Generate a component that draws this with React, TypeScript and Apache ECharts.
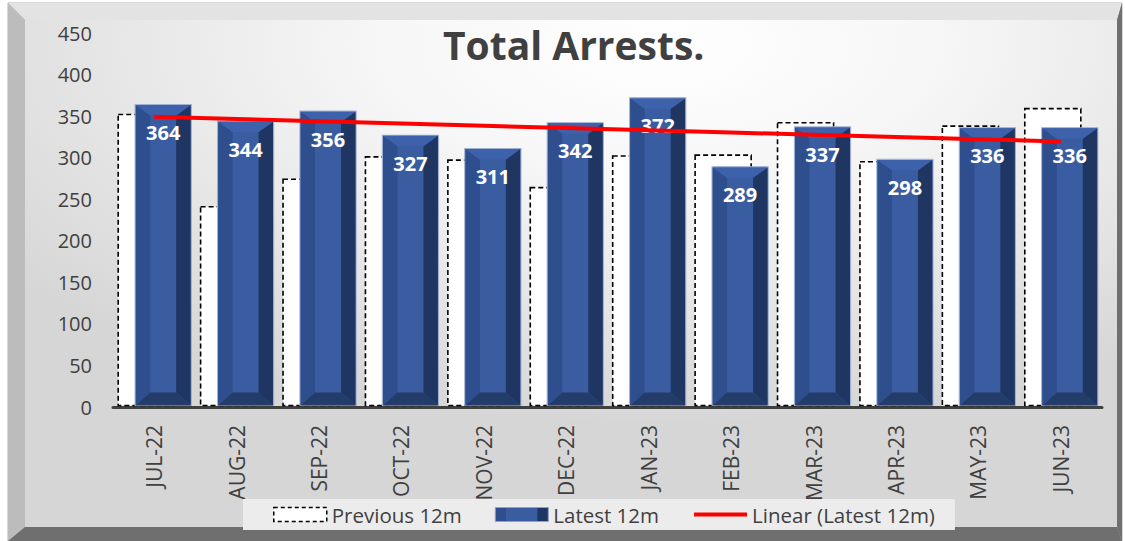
import React, { useEffect, useRef } from "react";
import * as echarts from "echarts";

const categories = ["JUL-22", "AUG-22", "SEP-22", "OCT-22", "NOV-22", "DEC-22", "JAN-23", "FEB-23", "MAR-23", "APR-23", "MAY-23", "JUN-23"];
const previous12m = [352, 241, 274, 301, 297, 264, 302, 303, 342, 295, 338, 359];
const latest12m = [364, 344, 356, 327, 311, 342, 372, 289, 337, 298, 336, 336];
const yMin = 0;
const yMax = 450;
const yInterval = 50;

function linearTrend(values: number[]): number[] {
  const n = values.length;
  const xs = values.map((_, i) => i + 1);
  const mx = xs.reduce((a, b) => a + b, 0) / n;
  const my = values.reduce((a, b) => a + b, 0) / n;
  let sxy = 0;
  let sxx = 0;
  for (let i = 0; i < n; i++) {
    sxy += (xs[i] - mx) * (values[i] - my);
    sxx += (xs[i] - mx) * (xs[i] - mx);
  }
  const slope = sxy / sxx;
  return xs.map((x) => my + slope * (x - mx));
}

const FONT = "'Open Sans', 'Noto Sans', sans-serif";

export default function App() {
  const ref = useRef<HTMLDivElement>(null);
  useEffect(() => {
    document.body.style.margin = "0";
    if (!ref.current) return;
    const chart = echarts.init(ref.current, undefined, { renderer: "svg" });
    const trend = linearTrend(latest12m);

    const PREV_OFF = -0.097;
    const LATEST_OFF = 0.109;
    const BAR_W = 0.68;

    const blueGrad = new echarts.graphic.LinearGradient(0, 0, 1, 0, [
      { offset: 0, color: "#2E4E8E" },
      { offset: 0.2, color: "#2E4E8E" },
      { offset: 0.21, color: "#3A5CA0" },
      { offset: 0.79, color: "#3A5CA0" },
      { offset: 0.8, color: "#1F3562" },
      { offset: 1, color: "#1F3562" },
    ]);

    const option: any = {
      animation: false,
      textStyle: { fontFamily: FONT },
      title: {
        text: "Total Arrests.",
        left: 438,
        top: 20,
        textStyle: { fontFamily: FONT, fontSize: 39, fontWeight: "bold", color: "#404040" },
      },
      graphic: [
        { type: "rect", z: -10, shape: { x: 8, y: 3, width: 1114, height: 538 }, style: { fill: "#bdbdbd", stroke: "#b0b0b0", lineWidth: 1 } },
        { type: "polygon", z: -9, shape: { points: [[8, 3], [1122, 3], [1117, 20], [25, 20]] }, style: { fill: "#e3e3e3" } },
        { type: "polygon", z: -9, shape: { points: [[8, 3], [25, 20], [25, 527], [8, 541]] }, style: { fill: "#bcbcbc" } },
        { type: "polygon", z: -9, shape: { points: [[8, 541], [25, 527], [1117, 527], [1122, 541]] }, style: { fill: "#6f6f6f" } },
        { type: "polygon", z: -9, shape: { points: [[1122, 3], [1117, 20], [1117, 527], [1122, 541]] }, style: { fill: "#6f6f6f" } },
        {
          type: "rect",
          z: -8,
          shape: { x: 25, y: 20, width: 1092, height: 507 },
          style: {
            fill: new echarts.graphic.RadialGradient(0.58, 0.05, 0.75, [
              { offset: 0, color: "#ffffff" },
              { offset: 0.35, color: "#f6f6f6" },
              { offset: 1, color: "#d6d6d6" },
            ]),
          },
        },
      ],
      legend: {
        left: 243,
        top: 499,
        padding: [5, 20, 5, 30],
        backgroundColor: "#ececec",
        itemWidth: 53,
        itemHeight: 14,
        itemGap: 33,
        textStyle: { fontFamily: FONT, fontSize: 20.5, color: "#404040" },
        data: [
          { name: "Previous 12m", icon: "rect", itemStyle: { color: "#ffffff", borderColor: "#000000", borderType: [4, 3], borderWidth: 1.5 } },
          { name: "Latest 12m", icon: "rect", itemStyle: { color: blueGrad, borderColor: "#8CA0C8", borderWidth: 1 } },
          { name: "Linear (Latest 12m)", itemStyle: { color: "rgba(0,0,0,0)", opacity: 0, borderWidth: 0 }, lineStyle: { color: "#FF0000", width: 4 } },
        ],
      },
      grid: { left: 113, right: 23, top: 33, bottom: 134, containLabel: false },
      xAxis: {
        type: "category",
        data: categories,
        axisLine: { lineStyle: { color: "#404040", width: 3 } },
        axisTick: { show: false },
        axisLabel: {
          rotate: 90,
          fontFamily: FONT,
          fontSize: 21,
          color: "#404040",
          margin: 18,
        },
      },
      yAxis: {
        type: "value",
        min: yMin,
        max: yMax,
        interval: yInterval,
        axisLine: { show: false },
        axisTick: { show: false },
        splitLine: { show: false },
        axisLabel: { fontFamily: FONT, fontSize: 20, color: "#404040", margin: 21 },
      },
      series: [
        {
          name: "Previous 12m",
          type: "custom",
          data: previous12m.map((v, i) => [i, v]),
          encode: { x: 0, y: 1 },
          itemStyle: { color: "#ffffff", borderColor: "#000", borderType: "dashed" },
          z: 2,
          renderItem: (params: any, api: any) => {
            const idx = api.value(0);
            const val = api.value(1);
            const top = api.coord([idx, val]);
            const base = api.coord([idx, 0]);
            const bw = api.size([1, 0])[0];
            const w = bw * BAR_W;
            const cx = top[0] + bw * PREV_OFF;
            return {
              type: "rect",
              shape: { x: cx - w / 2, y: top[1], width: w, height: base[1] - top[1] - 1.5 },
              style: { fill: "#ffffff", stroke: "#000000", lineWidth: 1.6, lineDash: [5, 3] },
            };
          },
        },
        {
          name: "Latest 12m",
          type: "custom",
          data: latest12m.map((v, i) => [i, v]),
          encode: { x: 0, y: 1 },
          itemStyle: { color: "#3A5CA0" },
          z: 3,
          renderItem: (params: any, api: any) => {
            const idx = api.value(0);
            const val = api.value(1);
            const top = api.coord([idx, val]);
            const base = api.coord([idx, 0]);
            const bw = api.size([1, 0])[0];
            const w = bw * BAR_W;
            const cx = top[0] + bw * LATEST_OFF;
            const x0 = cx - w / 2;
            const x1 = cx + w / 2;
            const y0 = top[1];
            const y1 = base[1] - 1.5;
            const sb = 15;
            const tb = 11;
            const bb = 13;
            const ix0 = x0 + sb;
            const ix1 = x1 - sb;
            const iy0 = y0 + tb;
            const iy1 = y1 - bb;
            return {
              type: "group",
              children: [
                { type: "rect", shape: { x: x0, y: y0, width: w, height: y1 - y0 }, style: { fill: "#3A5CA0", stroke: "#9FB0D2", lineWidth: 1.2 } },
                { type: "polygon", shape: { points: [[x0 + 0.6, y0 + 0.6], [ix0, iy0], [ix0, iy1], [x0 + 0.6, y1]] }, style: { fill: "#2E4E8E" } },
                { type: "polygon", shape: { points: [[x1 - 0.6, y0 + 0.6], [ix1, iy0], [ix1, iy1], [x1 - 0.6, y1]] }, style: { fill: "#1F3562" } },
                { type: "polygon", shape: { points: [[x0 + 0.6, y0 + 0.6], [x1 - 0.6, y0 + 0.6], [ix1, iy0], [ix0, iy0]] }, style: { fill: "#3D62AB" } },
                { type: "polygon", shape: { points: [[x0 + 0.6, y1], [x1 - 0.6, y1], [ix1, iy1], [ix0, iy1]] }, style: { fill: "#243C6A" } },
                {
                  type: "text",
                  style: {
                    text: String(val),
                    x: cx,
                    y: y0 + 28,
                    fill: "#ffffff",
                    font: `bold 20px ${FONT}`,
                    align: "center",
                    verticalAlign: "middle",
                  },
                },
              ],
            };
          },
        },
        {
          name: "Linear (Latest 12m)",
          type: "line",
          data: trend,
          symbol: "none",
          z: 5,
          lineStyle: { color: "#FF0000", width: 4 },
          itemStyle: { color: "#FF0000" },
        },
      ],
    };
    chart.setOption(option);
    return () => chart.dispose();
  }, []);
  return <div ref={ref} style={{ width: 1125, height: 541, position: "absolute", left: 0, top: 0 }} />;
}
